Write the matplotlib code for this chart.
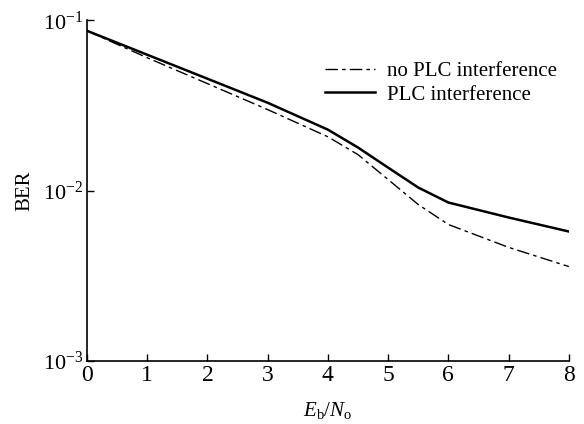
import numpy as np
import matplotlib
matplotlib.use("Agg")
import matplotlib.pyplot as plt
from matplotlib.ticker import LogLocator, NullLocator

plt.rcParams['font.family'] = ['Liberation Serif', 'DejaVu Serif']
plt.rcParams['mathtext.fontset'] = 'custom'
plt.rcParams['mathtext.rm'] = 'Liberation Serif'
plt.rcParams['mathtext.it'] = 'Liberation Serif:italic'

ebno = [0, 1, 2, 3, 4, 4.5, 5, 5.5, 6, 7, 8]
ber_plc = [0.0868, 0.0628, 0.0454, 0.0328, 0.0228, 0.0179, 0.01364, 0.01042, 0.00851, 0.00695, 0.00575]
ber_no_plc = [0.0868, 0.0603, 0.0425, 0.0299, 0.0207, 0.01626, 0.01161, 0.00828, 0.00632, 0.00464, 0.00358]

fig = plt.figure(figsize=(5.84, 4.24), dpi=100)
ax = fig.add_axes([0.149, 0.149, 0.825, 0.803])

ax.semilogy(ebno, ber_no_plc, color='k', lw=1.0, dashes=(9, 3, 2.5, 3), label='no PLC interference')
ax.semilogy(ebno, ber_plc, color='k', lw=1.8, label='PLC interference')

ax.set_xlim(0, 8)
ax.set_ylim(1e-3, 1e-1)
ax.set_xticks(range(9))
ax.yaxis.set_major_locator(LogLocator(base=10, numticks=5))
ax.yaxis.set_minor_locator(NullLocator())
ax.tick_params(direction='in', length=5, width=1)
ax.tick_params(axis='x', labelsize=17, pad=3)
ax.tick_params(axis='y', labelsize=16, pad=3)
for s in ['top', 'right']:
    ax.spines[s].set_visible(False)
for s in ['left', 'bottom']:
    ax.spines[s].set_linewidth(1.2)

ax.set_xlabel(r'$E_\mathrm{b}/N_\mathrm{o}$', fontsize=15, labelpad=10)
ax.set_ylabel('BER', fontsize=15, labelpad=6)

ax.legend(loc='upper right', bbox_to_anchor=(1.015, 0.935), frameon=False, fontsize=15,
          handlelength=2.4, handletextpad=0.6, labelspacing=0.2)

fig.savefig('out.png', dpi=100)
